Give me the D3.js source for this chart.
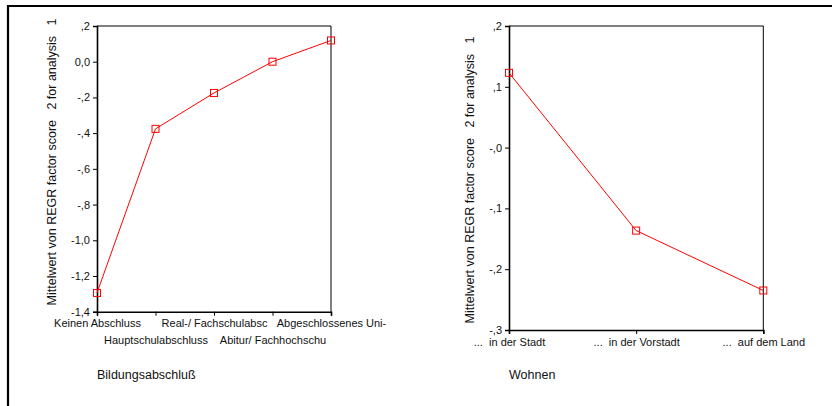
<!DOCTYPE html>
<html>
<head>
  <style>
    body { margin: 0; background: #fff; }
    svg text { font-family: "Liberation Sans", Arial, sans-serif; fill: #111; white-space: pre; }
    .tick line { stroke: #000; }
  </style>
</head>
<body>
  <svg width="832" height="406"></svg>
  <script src="https://cdnjs.cloudflare.com/ajax/libs/d3/7.8.5/d3.min.js"></script>
  <script>
    // chart 1: Bildungsabschluss
    const eduCats = ['Keinen Abschluss', 'Hauptschulabschluss', 'Real-/ Fachschulabsc', 'Abitur/ Fachhochschu', 'Abgeschlossenes Uni-'];
    const eduVals = [-1.295, -0.376, -0.175, 0.0, 0.119];
    const eduTicks = [0.2, 0, -0.2, -0.4, -0.6, -0.8, -1.0, -1.2, -1.4];
    const eduTickLabels = [',2', '0,0', '-,2', '-,4', '-,6', '-,8', '-1,0', '-1,2', '-1,4'];

    // chart 2: Wohnen
    const wohnCats = ['...  in der Stadt', '...  in der Vorstadt', '...  auf dem Land'];
    const wohnVals = [0.123, -0.1365, -0.235];
    const wohnTicks = [0.2, 0.1, 0, -0.1, -0.2, -0.3];
    const wohnTickLabels = [',2', ',1', '-,0', '-,1', '-,2', '-,3'];

    const yTitle = 'Mittelwert von REGR factor score   2 for analysis   1';

    const svg = d3.select('svg');

    // outer frame (top + left only)
    svg.append('line').attr('x1', 7).attr('x2', 832).attr('y1', 6).attr('y2', 6)
      .attr('stroke', '#000').attr('stroke-width', 2.2);
    svg.append('line').attr('x1', 8).attr('x2', 8).attr('y1', 5).attr('y2', 406)
      .attr('stroke', '#000').attr('stroke-width', 2.2);

    function drawPanel(opt) {
      const { left, right, top, bottom, cats, vals, ticks, tickLabels, title, titleY, yLabelX, yLabelY, stagger } = opt;
      const g = svg.append('g');

      const x = d3.scalePoint().domain(cats).range([left, right]);
      const y = d3.scaleLinear().domain([ticks[ticks.length - 1], ticks[0]]).range([bottom, top]);

      // box top/right
      g.append('path')
        .attr('d', `M${left},${top}H${right}V${bottom}`)
        .attr('fill', 'none').attr('stroke', '#000').attr('stroke-width', 1);

      // y axis
      const ya = g.append('g').attr('transform', `translate(${left},0)`)
        .call(d3.axisLeft(y).tickValues(ticks).tickSize(4).tickPadding(3)
          .tickFormat((d, i) => tickLabels[i]));
      ya.select('.domain').attr('stroke', '#000').attr('stroke-width', 1.6);
      ya.selectAll('text').attr('font-size', 11);

      // x axis
      const xa = g.append('g').attr('transform', `translate(0,${bottom})`)
        .call(d3.axisBottom(x).tickSize(4).tickPadding(4));
      xa.select('.domain').attr('stroke', '#000').attr('stroke-width', 1.6);
      xa.selectAll('text').attr('font-size', 11)
        .attr('dy', (d, i) => stagger && i % 2 === 1 ? '2.25em' : '0.71em');

      // line + markers
      const pts = cats.map((c, i) => [x(c), y(vals[i])]);
      g.append('path').datum(pts)
        .attr('d', d3.line())
        .attr('fill', 'none').attr('stroke', '#ff0000').attr('stroke-width', 1);
      g.selectAll('.mk').data(pts).enter().append('rect')
        .attr('x', d => d[0] - 3.5).attr('y', d => d[1] - 3.5)
        .attr('width', 7).attr('height', 7)
        .attr('fill', 'none').attr('stroke', '#ff0000').attr('stroke-width', 1);

      // y title
      g.append('text')
        .attr('transform', `translate(${yLabelX},${yLabelY}) rotate(-90)`)
        .attr('text-anchor', 'middle')
        .attr('font-size', 12.5)
        .text(yTitle);

      // x title
      g.append('text')
        .attr('x', left).attr('y', titleY)
        .attr('font-size', 12.5)
        .text(title);
    }

    drawPanel({
      left: 97, right: 331, top: 26, bottom: 311.7,
      cats: eduCats, vals: eduVals, ticks: eduTicks, tickLabels: eduTickLabels,
      title: 'Bildungsabschluß', titleY: 379, yLabelX: 56, yLabelY: 162, stagger: true
    });

    drawPanel({
      left: 509, right: 763.3, top: 26, bottom: 330,
      cats: wohnCats, vals: wohnVals, ticks: wohnTicks, tickLabels: wohnTickLabels,
      title: 'Wohnen', titleY: 379, yLabelX: 474, yLabelY: 180, stagger: false
    });
  </script>
</body>
</html>
